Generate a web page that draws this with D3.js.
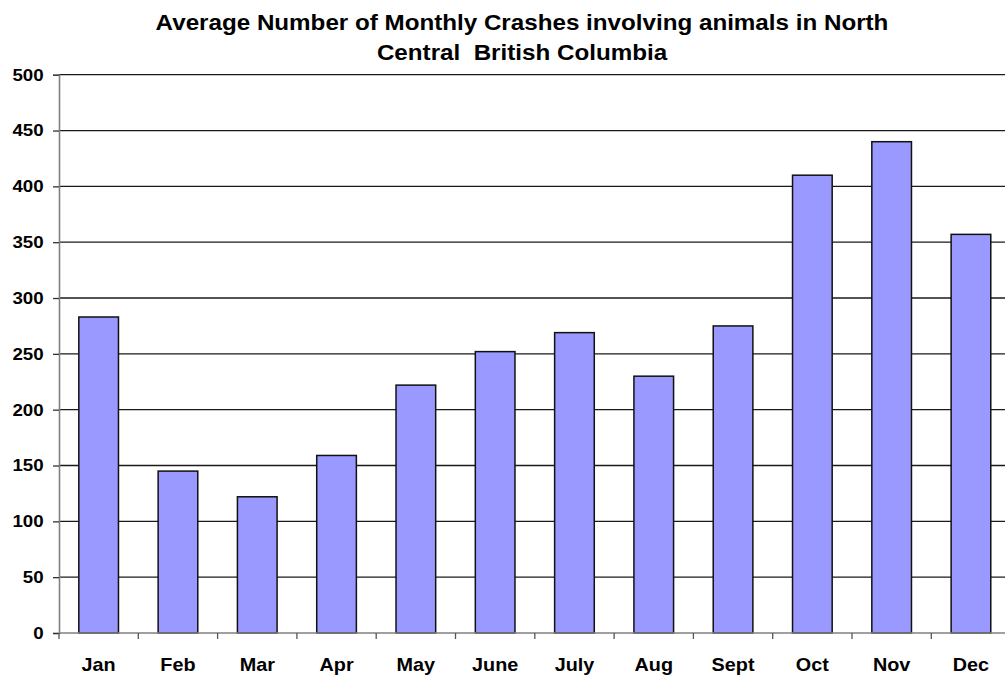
<!DOCTYPE html>
<html>
<head>
<meta charset="utf-8">
<script src="https://cdn.jsdelivr.net/npm/d3@7"></script>
<style>
  html, body { margin: 0; padding: 0; background: #fff; }
  svg { display: block; }
  text { font-family: "Liberation Sans", Arial, sans-serif; font-weight: bold; fill: #000; }
</style>
</head>
<body>
<svg id="chart" width="1005" height="675"></svg>
<script>
// Monthly averages of animal-involved crashes
const months = ["Jan", "Feb", "Mar", "Apr", "May", "June", "July", "Aug", "Sept", "Oct", "Nov", "Dec"];
const crashes = [283, 145, 122, 159, 222, 252, 269, 230, 275, 410, 440, 357];
const yTicks = [0, 50, 100, 150, 200, 250, 300, 350, 400, 450, 500];
const titleLines = ["Average Number of Monthly Crashes involving animals in North", "Central  British Columbia"];

const svg = d3.select("#chart");
const plotLeft = 59, plotBottom = 633, plotTop = 74.7, catStep = 79.3;
const textStretch = 1.1; // labels are set slightly wide

const x = d3.scaleBand()
  .domain(months)
  .range([plotLeft, plotLeft + catStep * months.length])
  .paddingInner(0.5)
  .paddingOuter(0.25);

const y = d3.scaleLinear().domain([0, 500]).range([plotBottom, plotTop]);

// horizontal gridlines
svg.append("g")
  .selectAll("line")
  .data(yTicks.filter(d => d > 0))
  .join("line")
  .attr("x1", plotLeft).attr("x2", 1005)
  .attr("y1", d => y(d)).attr("y2", d => y(d))
  .attr("stroke", "#1a1a1a")
  .attr("stroke-width", 1.3);

// bars
svg.append("g")
  .selectAll("rect")
  .data(months.map((m, i) => ({ m, v: crashes[i] })))
  .join("rect")
  .attr("x", d => x(d.m))
  .attr("y", d => y(d.v))
  .attr("width", x.bandwidth())
  .attr("height", d => y(0) - y(d.v))
  .attr("fill", "#9999ff")
  .attr("stroke", "#111")
  .attr("stroke-width", 1.5);

// y axis
const yAxis = svg.append("g")
  .attr("transform", `translate(${plotLeft},0)`)
  .call(d3.axisLeft(y).tickValues(yTicks).tickSize(6).tickPadding(8).tickFormat(d3.format("d")));
yAxis.select(".domain").attr("stroke", "#808080").attr("stroke-width", 1.6);
yAxis.selectAll(".tick line").attr("stroke", "#333").attr("stroke-width", 1.3);
yAxis.selectAll(".tick text")
  .attr("font-size", 17)
  .attr("font-family", "Liberation Sans, Arial, sans-serif")
  .attr("font-weight", "bold")
  .attr("fill", "#000")
  .attr("transform", `scale(${textStretch},1)`);

// x axis with ticks at category boundaries
const xAxisG = svg.append("g");
xAxisG.append("line")
  .attr("x1", plotLeft).attr("x2", 1005)
  .attr("y1", plotBottom).attr("y2", plotBottom)
  .attr("stroke", "#808080").attr("stroke-width", 1.6);
xAxisG.selectAll("line.tk")
  .data(months)
  .join("line")
  .attr("class", "tk")
  .attr("x1", d => x(d) - x.step() * 0.25)
  .attr("x2", d => x(d) - x.step() * 0.25)
  .attr("y1", plotBottom).attr("y2", plotBottom + 6)
  .attr("stroke", "#555").attr("stroke-width", 1.3);
xAxisG.selectAll("text")
  .data(months)
  .join("text")
  .attr("transform", d => `translate(${x(d) + x.bandwidth() / 2},671) scale(${textStretch},1)`)
  .attr("text-anchor", "middle")
  .attr("font-size", 18)
  .text(d => d);

// title
svg.append("g")
  .attr("transform", `translate(522,0) scale(${textStretch},1)`)
  .selectAll("text")
  .data(titleLines)
  .join("text")
  .attr("x", 0)
  .attr("y", (d, i) => 30 + i * 30)
  .attr("text-anchor", "middle")
  .attr("font-size", 22)
  .style("white-space", "pre")
  .text(d => d);
</script>
</body>
</html>
